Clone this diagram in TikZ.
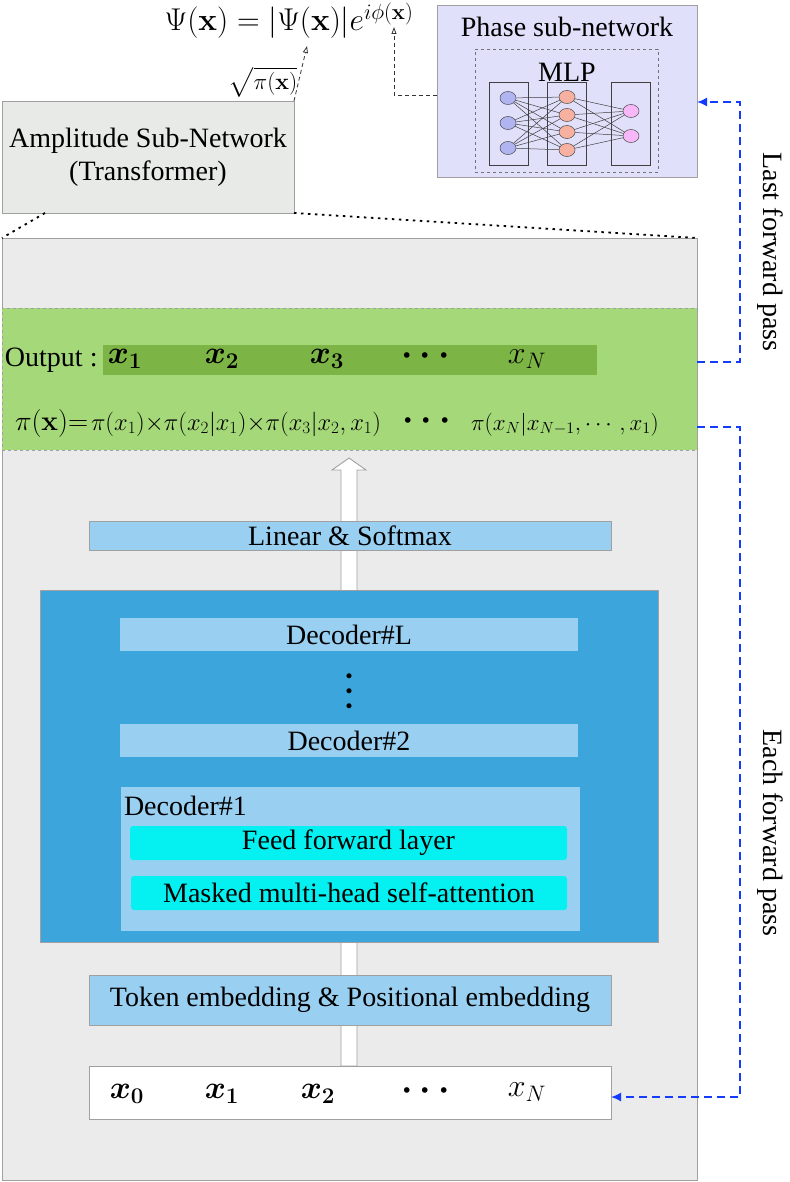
\RequirePackage{fix-cm}
\documentclass[tikz,border=0pt]{standalone}
\usepackage{amsmath,bm}
\usepackage[no-math]{fontspec}
\setmainfont{Liberation Serif}
\usetikzlibrary{shapes.geometric,arrows.meta}
\newcommand\fsz[2]{\fontsize{#1}{#2}\selectfont}
\newcommand\tallvdots{\vbox{\baselineskip=15pt\lineskiplimit=0pt\hbox{$\bullet$}\hbox{$\bullet$}\hbox{$\bullet$}}}
\definecolor{bordergray}{RGB}{160,160,160}
\definecolor{outerfill}{RGB}{235,235,235}
\definecolor{ampfill}{RGB}{232,234,232}
\definecolor{phasefill}{RGB}{224,224,250}
\definecolor{greenfill}{RGB}{164,216,120}
\definecolor{greenbar}{RGB}{124,180,70}
\definecolor{lightblue}{RGB}{153,208,242}
\definecolor{decblue}{RGB}{59,165,220}
\definecolor{cyanfill}{RGB}{5,240,240}
\definecolor{passblue}{RGB}{20,60,255}
\definecolor{nblue}{RGB}{176,180,240}
\definecolor{nred}{RGB}{248,176,160}
\definecolor{npink}{RGB}{248,184,248}
\tikzset{
  gbox/.style={draw=bordergray, line width=0.9pt, inner sep=0pt, outer sep=0pt},
  plainbox/.style={inner sep=0pt, outer sep=0pt},
  txt/.style={font=\fsz{28}{33}},
  neuron/.style={ellipse, draw=black!70, line width=0.5pt, minimum width=16pt, minimum height=13pt, inner sep=0pt},
  layerbox/.style={draw=black!75, line width=0.7pt, minimum width=39pt, minimum height=83pt, inner sep=0pt},
  conn/.style={draw=black!75, line width=0.5pt},
  passline/.style={draw=passblue, line width=1.6pt, dash pattern=on 8pt off 5pt, -{Latex[length=10pt,width=9pt]}},
  thinarrow/.style={draw=black!80, line width=0.8pt, dash pattern=on 4pt off 3pt, -{Triangle[open,length=7pt,width=5pt]}},
  dotline/.style={draw=black, line width=1.8pt, dash pattern=on 2.5pt off 4.5pt},
}
\begin{document}
\begin{tikzpicture}[x=1pt,y=-1pt]
\useasboundingbox (0,0) rectangle (789,1182);

% ---------- top formula ----------
\node[plainbox, anchor=base] (psi) at (289,31) {\fsz{31.5}{38}$\Psi(\mathbf{x}) = |\Psi(\mathbf{x})|e^{i\phi(\mathbf{x})}$};

% ---------- amplitude box ----------
\node[gbox, fill=ampfill, minimum width=292pt, minimum height=112pt, txt, align=center] (amp) at (148,157) {Amplitude Sub-Network\\(Transformer)};
\coordinate (sqtip) at (307,46);
\draw[thinarrow] (amp.north east) -- (sqtip);
\node[plainbox] (sqlab) at (263,82) {\fsz{23}{27}$\sqrt{\pi(\mathbf{x})}$};

% ---------- phase box ----------
\node[gbox, fill=phasefill, minimum width=260pt, minimum height=172pt] (phase) at (567,91) {};
\node[plainbox, txt] (phtitle) at (567,27) {Phase sub-network};
\node[draw=black!55, dashed, line width=0.7pt, minimum width=183pt, minimum height=123pt, inner sep=0pt] (mlpbox) at (566.5,110.5) {};
\node[plainbox, txt] (mlplab) at (567,72) {MLP};
\node[layerbox] (lay1) at (508.5,123.5) {};
\node[layerbox] (lay2) at (566.5,123.5) {};
\node[layerbox] (lay3) at (630.5,123.5) {};
\foreach \i/\y in {1/98,2/123,3/148} \node[neuron, fill=nblue] (a\i) at (508,\y) {};
\foreach \i/\y in {1/97,2/115,3/132,4/150} \node[neuron, fill=nred] (b\i) at (567,\y) {};
\foreach \i/\y in {1/111,2/136} \node[neuron, fill=npink] (c\i) at (631,\y) {};
\foreach \i in {1,2,3} \foreach \j in {1,2,3,4} \draw[conn] (a\i) -- (b\j);
\foreach \j in {1,2,3,4} \foreach \k in {1,2} \draw[conn] (b\j) -- (c\k);
\coordinate (phl) at (437,95);
\coordinate (phitip) at (394,27);
\draw[thinarrow] (phl) -| (phitip);

% ---------- outer transformer box ----------
\node[gbox, fill=outerfill, minimum width=695pt, minimum height=942pt] (outer) at (349.5,709) {};
\coordinate (ampbl) at (45,213);
\draw[dotline] (ampbl) -- (outer.north west);
\draw[dotline] (amp.south east) -- (outer.north east);

% ---------- green output box ----------
\node[draw=bordergray, dashed, line width=0.8pt, fill=greenfill, minimum width=695pt, minimum height=142pt, inner sep=0pt] (green) at (349.5,379) {};
\node[plainbox, fill=greenbar, minimum width=494pt, minimum height=30pt] (gbar) at (350,360) {};
\node[plainbox, txt, anchor=west] (outlab) at (5,360) {Output :};
\node[plainbox] (o1) at (125,359) {\fsz{32}{36}$\boldsymbol{x_1}$};
\node[plainbox] (o2) at (222,359) {\fsz{32}{36}$\boldsymbol{x_2}$};
\node[plainbox] (o3) at (327,359) {\fsz{32}{36}$\boldsymbol{x_3}$};
\node[plainbox] (od) at (429,356) {\fsz{36}{40}$\boldsymbol{\cdots}$};
\node[plainbox] (oN) at (527,359) {\fsz{32}{36}$x_N$};

\node[plainbox, anchor=base west] (pix) at (15,430) {\fsz{28}{32}$\pi(\mathbf{x}){=}$};
\node[plainbox, anchor=base west] (pirest) at (91,430) {\fsz{24.5}{28}$\pi(x_1){\times}\pi(x_2|x_1){\times}\pi(x_3|x_2,x_1)$};
\node[plainbox] (pd) at (430,421) {\fsz{36}{40}$\boldsymbol{\cdots}$};
\node[plainbox, anchor=base] (piN) at (565,430) {\fsz{23}{27}$\pi(x_N|x_{N-1},\cdots,x_1)$};

% ---------- hollow arrow ----------
\draw[draw=bordergray, line width=0.9pt, fill=white] (341,1066) -- (341,470) -- (332,470) -- (349,458) -- (366,470) -- (357,470) -- (357,1066) -- cycle;

% ---------- linear & softmax ----------
\node[gbox, fill=lightblue, minimum width=522pt, minimum height=29pt, txt] (lin) at (350,535.5) {Linear \& Softmax};

% ---------- decoder stack ----------
\node[gbox, fill=decblue, minimum width=618pt, minimum height=352pt] (dec) at (349,766) {};
\node[plainbox, fill=lightblue, minimum width=458pt, minimum height=33pt, txt] (decL) at (349,634.5) {Decoder\#L};
\node[plainbox, font=\fsz{13}{15}] (vd) at (349,692) {\tallvdots};
\node[plainbox, fill=lightblue, minimum width=458pt, minimum height=33pt, txt] (dec2) at (349,740.5) {Decoder\#2};
\node[plainbox, fill=lightblue, minimum width=459pt, minimum height=144pt] (dec1) at (350.5,859) {};
\node[plainbox, txt, anchor=west] (dec1lab) at (124,806) {Decoder\#1};
\node[plainbox, fill=cyanfill, rounded corners=3pt, minimum width=437pt, minimum height=34pt, txt] (ffl) at (348.5,843) {Feed forward layer};
\node[plainbox, fill=cyanfill, rounded corners=3pt, minimum width=436pt, minimum height=34pt, txt] (mha) at (349,893) {Masked multi-head self-attention};

% ---------- embedding & input ----------
\node[gbox, fill=lightblue, minimum width=522pt, minimum height=50pt, txt] (emb) at (350,1000) {Token embedding \& Positional embedding};
\node[gbox, fill=white, minimum width=522pt, minimum height=53pt] (xin) at (350,1092.5) {};
\node[plainbox] (i0) at (127,1094) {\fsz{32}{36}$\boldsymbol{x_0}$};
\node[plainbox] (i1) at (222,1094) {\fsz{32}{36}$\boldsymbol{x_1}$};
\node[plainbox] (i2) at (318,1094) {\fsz{32}{36}$\boldsymbol{x_2}$};
\node[plainbox] (id) at (429,1091) {\fsz{36}{40}$\boldsymbol{\cdots}$};
\node[plainbox] (iN) at (527,1092) {\fsz{32}{36}$x_N$};

% ---------- forward pass connectors ----------
\coordinate (g1) at (697,362);
\coordinate (g2) at (697,427);
\coordinate (p1) at (697,102);
\coordinate (xe) at (611,1097);
\draw[passline] (g1) -- (740,362) -- (740,102) -- (p1);
\draw[passline] (g2) -- (740,427) -- (740,1097) -- (xe);
\node[plainbox, txt, rotate=-90] (lastlab) at (770,252) {Last forward pass};
\node[plainbox, txt, rotate=-90] (eachlab) at (770,833) {Each forward pass};
\end{tikzpicture}
\end{document}
